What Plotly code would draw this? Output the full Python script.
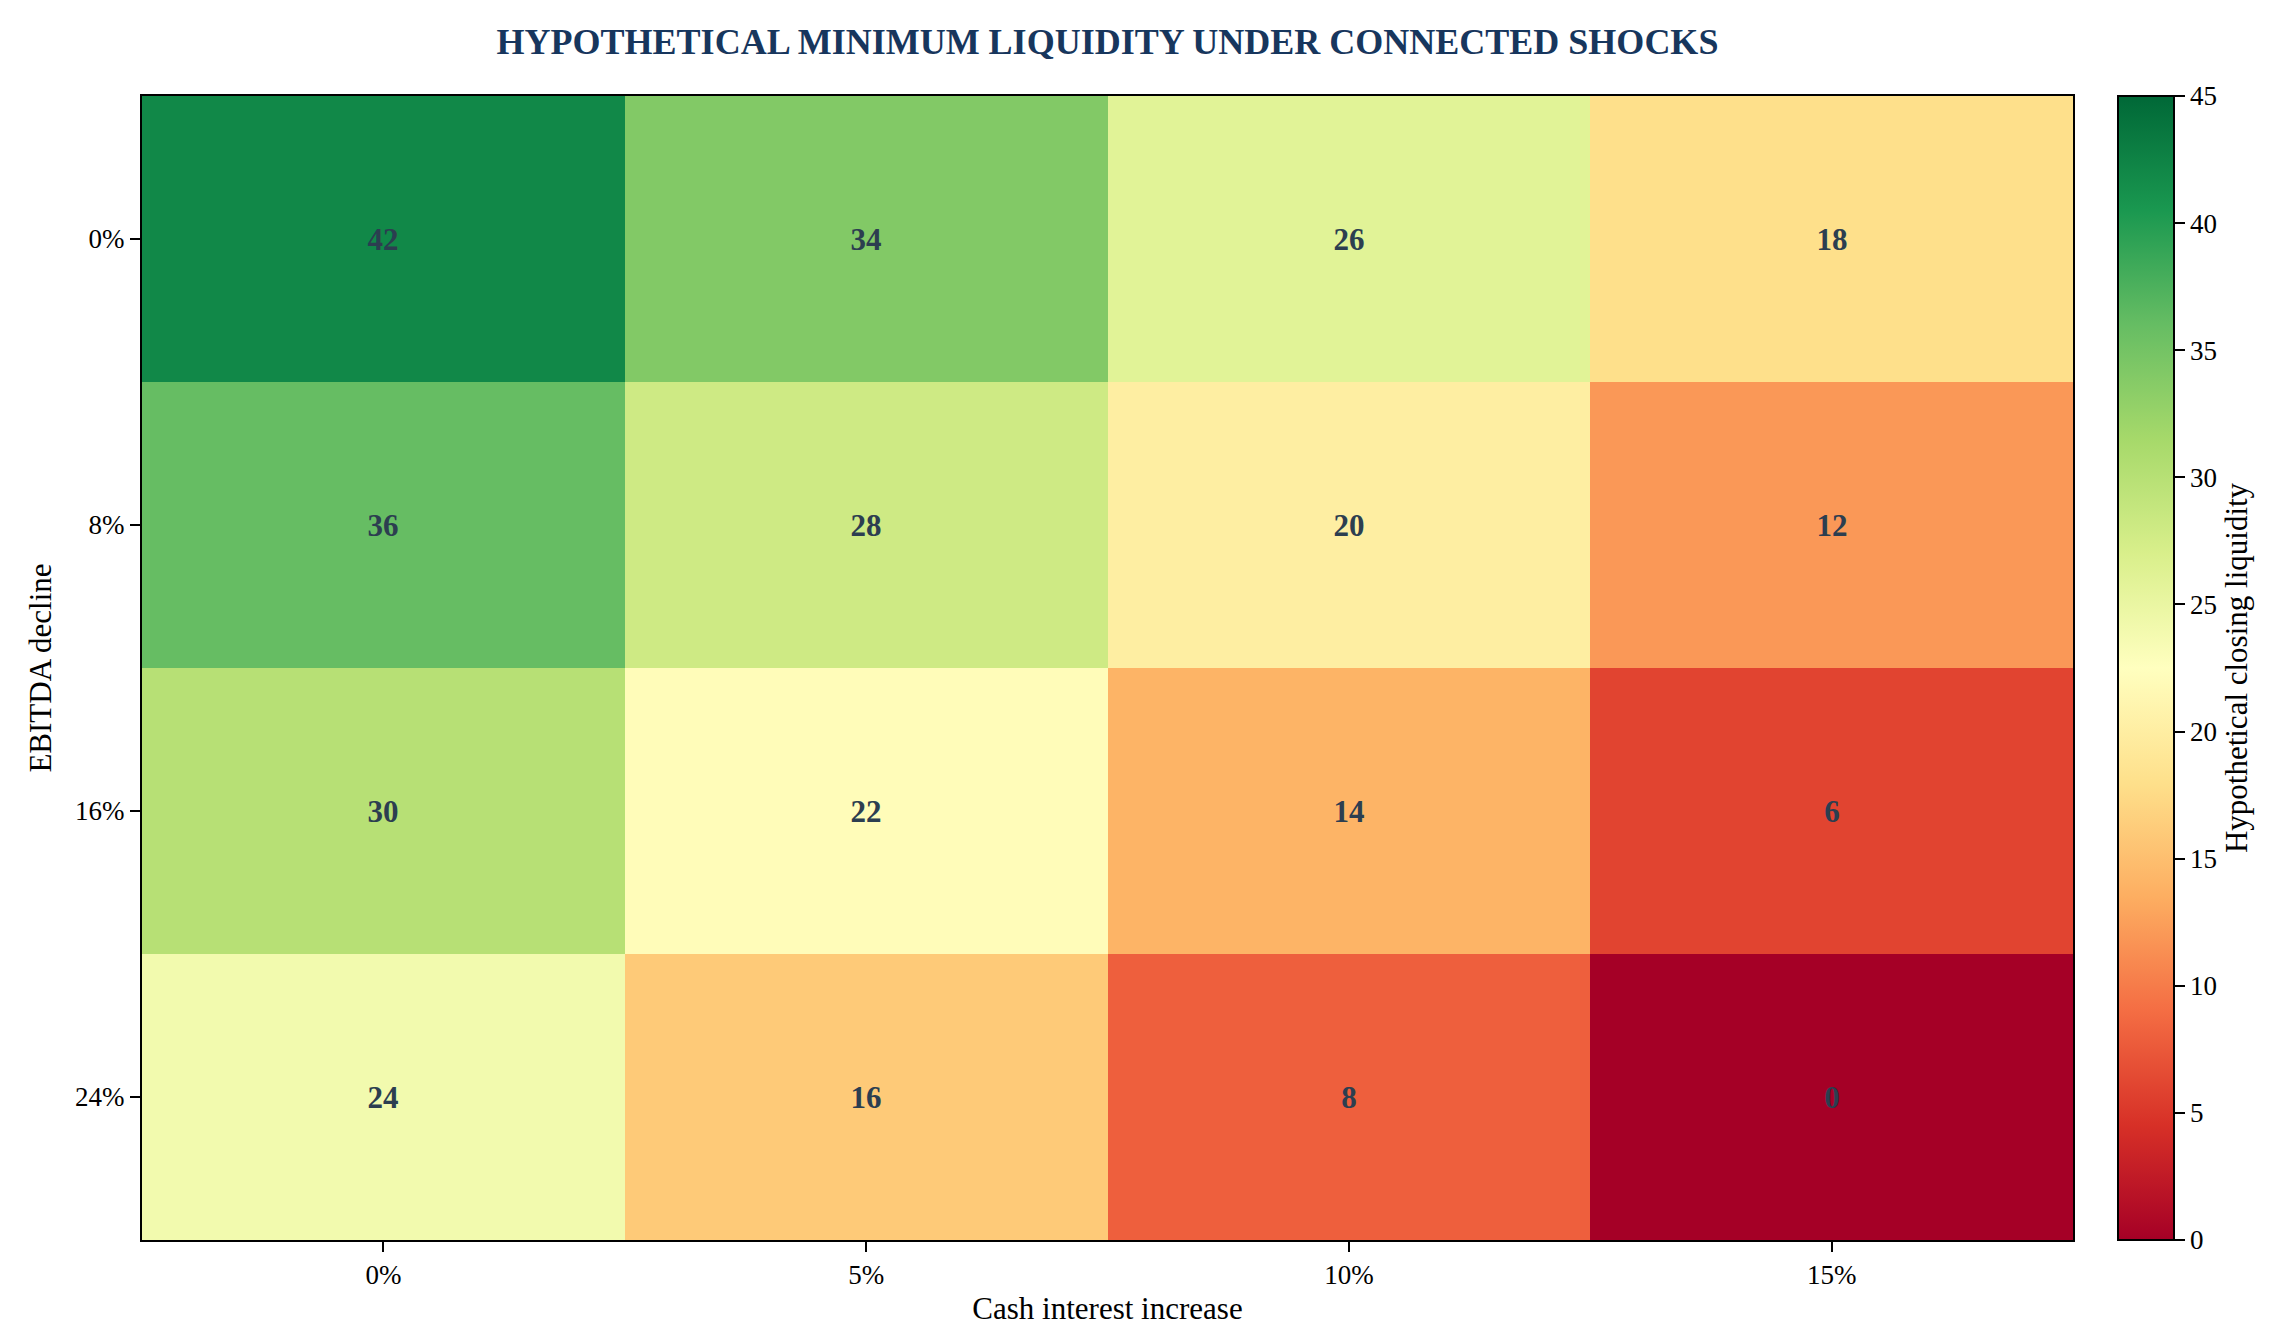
import plotly.graph_objects as go

# Scenario grid
interest_labels = ["0%", "5%", "10%", "15%"]
ebitda_labels = ["0%", "8%", "16%", "24%"]

# closing liquidity per EBITDA decline row
liq_0 = [42, 34, 26, 18]
liq_8 = [36, 28, 20, 12]
liq_16 = [30, 22, 14, 6]
liq_24 = [24, 16, 8, 0]

z = [liq_0, liq_8, liq_16, liq_24]
text = [[str(v) for v in row] for row in z]

serif = "Liberation Serif, Times New Roman, serif"

fig = go.Figure()

fig.add_trace(go.Heatmap(
    z=z,
    x=interest_labels,
    y=ebitda_labels,
    text=text,
    texttemplate="<b>%{text}</b>",
    textfont=dict(family=serif, size=31, color="#2c3e50"),
    colorscale="RdYlGn",
    zmin=0,
    zmax=45,
    hoverinfo="skip",
    colorbar=dict(
        x=1.0233,
        xanchor="left",
        xpad=0,
        y=0.5,
        yanchor="middle",
        len=1.0,
        lenmode="fraction",
        ypad=0,
        thickness=56,
        thicknessmode="pixels",
        outlinecolor="black",
        outlinewidth=2,
        tickmode="array",
        tickvals=[0, 5, 10, 15, 20, 25, 30, 35, 40, 45],
        ticks="outside",
        ticklen=10,
        tickwidth=1.5,
        tickcolor="black",
        tickfont=dict(family=serif, size=27, color="black"),
        title=dict(text="Hypothetical closing liquidity", side="right",
                   font=dict(family=serif, size=31, color="black")),
    ),
))

fig.update_layout(
    width=2281,
    height=1341,
    paper_bgcolor="white",
    plot_bgcolor="white",
    margin=dict(l=134, r=216, t=88, b=109),
    title=dict(
        text="<b>HYPOTHETICAL MINIMUM LIQUIDITY UNDER CONNECTED SHOCKS</b>",
        x=(134 + 2065) / 2 / 2281,
        xanchor="center",
        y=1 - 33 / 1341,
        yanchor="middle",
        font=dict(family=serif, size=36, color="#17365d"),
    ),
    font=dict(family=serif, color="black"),
)

fig.update_xaxes(
    title=dict(text="Cash interest increase", font=dict(family=serif, size=31, color="black"), standoff=8),
    tickfont=dict(family=serif, size=27, color="black"),
    ticks="outside",
    ticklen=10,
    tickwidth=1.5,
    tickcolor="black",
    showline=True,
    linecolor="black",
    linewidth=2,
    mirror=True,
    showgrid=False,
    zeroline=False,
)

fig.update_yaxes(
    title=dict(text="EBITDA decline", font=dict(family=serif, size=31, color="black"), standoff=14),
    tickfont=dict(family=serif, size=27, color="black"),
    autorange="reversed",
    ticks="outside",
    ticklen=10,
    tickwidth=1.5,
    tickcolor="black",
    showline=True,
    linecolor="black",
    linewidth=2,
    mirror=True,
    showgrid=False,
    zeroline=False,
)

fig.write_html("out.html")
